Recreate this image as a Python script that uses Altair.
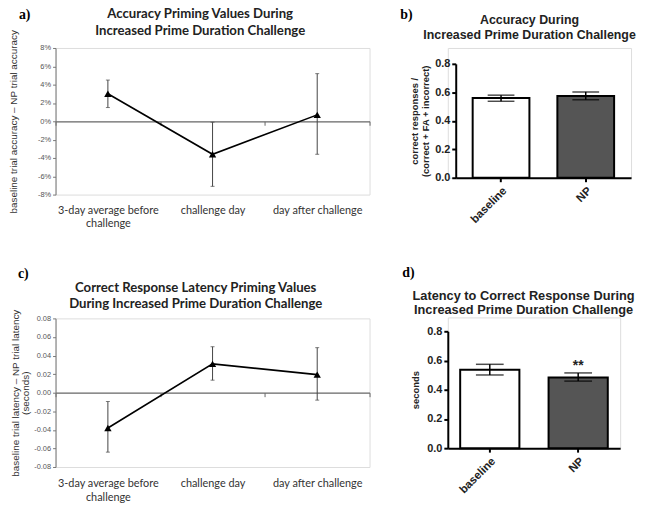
import altair as alt
import pandas as pd

# ---------------- data ----------------
days = ["3-day average before challenge", "challenge day", "day after challenge"]

acc_prime = [3.0, -3.6, 0.7]
acc_prime_lo = [1.5, -7.1, -3.6]
acc_prime_hi = [4.5, -0.1, 5.2]

lat_prime = [-0.038, 0.031, 0.0195]
lat_prime_lo = [-0.064, 0.0135, -0.008]
lat_prime_hi = [-0.0095, 0.0495, 0.0485]

groups = ["baseline", "NP"]
bar_fill = ["white", "#555555"]

acc = [0.56, 0.574]
acc_lo = [0.537, 0.548]
acc_hi = [0.58, 0.603]

lat = [0.537, 0.483]
lat_lo = [0.501, 0.459]
lat_hi = [0.574, 0.515]
lat_sig = ["", "**"]

title_a = ["Accuracy Priming Values During", "Increased Prime Duration Challenge"]
title_b = ["Accuracy During", "Increased Prime Duration Challenge"]
title_c = ["Correct Response Latency Priming Values",
           "During Increased Prime Duration Challenge"]
title_d = ["Latency to Correct Response During", "Increased Prime Duration Challenge"]

SANS = "Liberation Sans"
CAL = "Lato"

day_label_expr = ("datum.label == '3-day average before challenge' ? "
                  "['3-day average before', 'challenge'] : datum.label")


def panel_label(txt, x, y):
    return alt.Chart(pd.DataFrame({"t": [txt]})).mark_text(
        font="Liberation Serif", fontWeight="bold", fontSize=14, align="left",
        baseline="alphabetic", color="black"
    ).encode(text="t:N", x=alt.value(x), y=alt.value(y))


def title_marks(lines, x, y, font, size, lh):
    out = []
    for i, ln in enumerate(lines):
        out.append(alt.Chart(pd.DataFrame({"t": [ln]})).mark_text(
            font=font, fontWeight="bold", fontSize=size, align="center",
            baseline="alphabetic", color="#222"
        ).encode(text="t:N", x=alt.value(x), y=alt.value(y + i * lh)))
    return out


def line_panel(vals, lo, hi, dom, yvals, ylab_expr, ytitle, ytitle_pad, title_txt,
               title_x, title_y, lab, lab_x, lab_y, W, H, lab_pad):
    df = pd.DataFrame({"day": days, "v": vals, "lo": lo, "hi": hi})
    xscale = alt.Scale(type="band", paddingInner=0, paddingOuter=0)
    xaxis = alt.Axis(title=None, orient="bottom", offset=-H / 2,
                     domainColor="#666", domainWidth=1.2,
                     tickColor="#666", tickSize=4, tickWidth=1,
                     tickBand="extent", labelPadding=lab_pad,
                     labelAngle=0, labelFont=CAL, labelFontSize=11,
                     labelColor="#333", labelLineHeight=13.5,
                     labelExpr=day_label_expr)
    yscale = alt.Scale(domain=dom, nice=False, zero=False)
    yaxis = alt.Axis(values=yvals, labelExpr=ylab_expr, grid=False,
                     labelOverlap=False, tickCount=len(yvals),
                     domainColor="#777", tickColor="#777", tickSize=3,
                     labelFontSize=7.5, labelColor="#555", labelFont=SANS,
                     labelPadding=2, title=ytitle, titleFont=SANS,
                     titleFontSize=10, titleFontWeight="normal",
                     titleColor="#333", titlePadding=ytitle_pad, titleLineHeight=10.5)
    base = alt.Chart(df)
    xs = alt.X("day:N", sort=days, scale=xscale, axis=xaxis)

    def ys(f):
        return alt.Y(f, scale=yscale, axis=yaxis)

    err = base.mark_rule(color="#444", strokeWidth=1).encode(
        x=xs, y=ys("lo:Q"), y2="hi:Q")
    cap_lo = base.mark_tick(color="#444", size=4, thickness=1).encode(
        x=xs, y=ys("lo:Q"))
    cap_hi = base.mark_tick(color="#444", size=4, thickness=1).encode(
        x=xs, y=ys("hi:Q"))
    line = base.mark_line(color="black", strokeWidth=1.6).encode(
        x=xs, y=ys("v:Q"))
    pts = base.mark_point(shape="triangle-up", filled=True, size=55,
                          color="black", opacity=1).encode(
        x=xs, y=ys("v:Q"))
    layers = [line, err, cap_lo, cap_hi, pts]
    layers += title_marks(title_txt, title_x, title_y, CAL, 13.3, 16.5)
    layers.append(panel_label(lab, lab_x, lab_y))
    return alt.layer(*layers).properties(width=W, height=H)


def bar_panel(vals, lo, hi, sig, ytitle, ytitle_pad, title_txt, title_x,
              title_y, tsize, lab, lab_x, lab_y, W, H, top, x0, pin, pout, cap):
    df = pd.DataFrame({"g": groups, "v": vals, "lo": lo, "hi": hi,
                       "fill": bar_fill, "sig": sig})
    xscale = alt.Scale(type="band", paddingInner=pin, paddingOuter=pout,
                       range=[x0, W])
    xaxis = alt.Axis(title=None, labelAngle=-45, labelFont=SANS,
                     labelFontWeight="bold", labelFontSize=11.5,
                     labelColor="#222", domainColor="black",
                     domainWidth=2, tickColor="black", tickWidth=2,
                     tickSize=4, labelPadding=3)
    yscale = alt.Scale(domain=[0, 0.8], nice=False, range=[H, top])
    yaxis = alt.Axis(values=[0, 0.2, 0.4, 0.6, 0.8], format=".1f", grid=False,
                     labelOverlap=False, tickCount=5,
                     offset=-x0, domainColor="black", domainWidth=2,
                     tickColor="black", tickWidth=2, tickSize=4,
                     labelFont=SANS, labelFontWeight="bold", labelFontSize=11,
                     labelColor="#222", labelPadding=2, title=ytitle,
                     titleFont=SANS, titleFontWeight="bold", titleFontSize=9.5,
                     titleColor="#222", titlePadding=ytitle_pad, titleLineHeight=11)
    base = alt.Chart(df)
    xs = alt.X("g:N", sort=groups, scale=xscale, axis=xaxis)

    def ys(f):
        return alt.Y(f, scale=yscale, axis=yaxis)

    bars = base.mark_bar(stroke="black", strokeWidth=2).encode(
        x=xs, y=ys("v:Q"), fill=alt.Fill("fill:N", scale=None))
    err = base.mark_rule(color="black", strokeWidth=1.5).encode(
        x=xs, y=ys("lo:Q"), y2="hi:Q")
    cap_lo = base.mark_tick(color="black", size=cap, thickness=1.5).encode(
        x=xs, y=ys("lo:Q"))
    cap_hi = base.mark_tick(color="black", size=cap, thickness=1.5).encode(
        x=xs, y=ys("hi:Q"))
    star = base.mark_text(font=SANS, fontWeight="bold", fontSize=14,
                          color="#222", baseline="middle", dy=-7).encode(
        x=xs, y=ys("hi:Q"), text="sig:N")
    layers = [bars, err, cap_lo, cap_hi, star]
    layers += title_marks(title_txt, title_x, title_y + top, SANS, tsize, 15)
    layers.append(panel_label(lab, lab_x, lab_y + top))
    return alt.layer(*layers).properties(width=W, height=H)


pct_expr = "datum.value + '%'"
sec_expr = "(datum.value < 0 ? '-' : '') + format(abs(datum.value), '.2f')"

panel_a = line_panel(acc_prime, acc_prime_lo, acc_prime_hi, [-8, 8],
                     list(range(-8, 9, 2)), pct_expr,
                     "baseline trial accuracy \u2013 NP trial accuracy", 19,
                     title_a, 146, -30, "a)", -37, -29, 317, 148, 80)

panel_c = line_panel(lat_prime, lat_prime_lo, lat_prime_hi, [-0.08, 0.08],
                     [-0.08, -0.06, -0.04, -0.02, 0, 0.02, 0.04, 0.06, 0.08],
                     sec_expr,
                     ["baseline trial latency \u2013 NP trial latency", "(seconds)"], 3,
                     title_c, 141.5, -27, "c)", -38, -41, 317, 150, 82)

panel_b = bar_panel(acc, acc_lo, acc_hi, ["", ""],
                    ["correct responses /", "(correct + FA + incorrect)"], 4,
                    title_b, 82.5, -40, 12.5, "b)", -48, -45.5,
                    185, 131, 16, 8, 0.33, 0.2, 27)

panel_d = bar_panel(lat, lat_lo, lat_hi, lat_sig, "seconds", 6,
                    title_d, 76.5, -32, 12.9, "d)", -46, -55,
                    174, 132, 14, 0, 0.33, 0.14, 28)

left = alt.vconcat(panel_a, panel_c, spacing=37)
right = alt.vconcat(panel_b, panel_d, spacing=39)
chart = alt.hconcat(left, right, spacing=29).properties(
    padding={"top": -4, "left": 0, "right": 0, "bottom": 0}).configure_view(
    strokeWidth=0).configure(background="white")

chart.save("out.html", embed_options={"renderer": "svg", "actions": False})
